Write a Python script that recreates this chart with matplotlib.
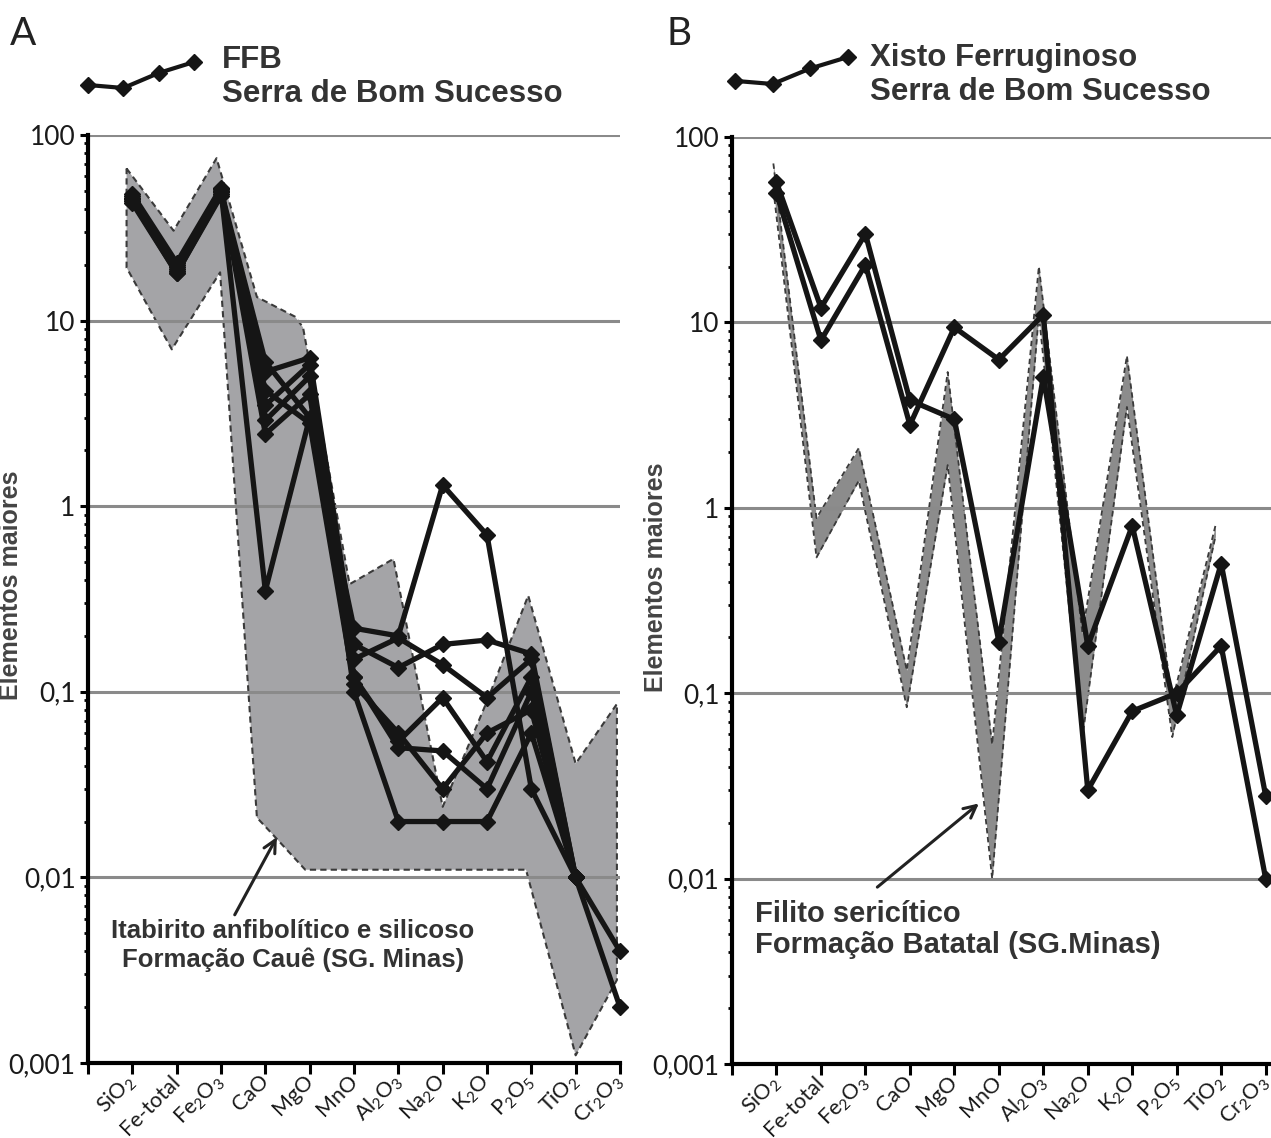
import matplotlib
matplotlib.use("Agg")
import matplotlib.pyplot as plt
import numpy as np
from matplotlib.ticker import LogLocator, NullFormatter

nan = np.nan

# categorias (eixo x)
oxides = ["$\\mathregular{SiO_2}$", "Fe-total", "$\\mathregular{Fe_2O_3}$", "CaO", "MgO", "MnO",
          "$\\mathregular{Al_2O_3}$", "$\\mathregular{Na_2O}$", "$\\mathregular{K_2O}$",
          "$\\mathregular{P_2O_5}$", "$\\mathregular{TiO_2}$", "$\\mathregular{Cr_2O_3}$"]
ytick_values = [0.001, 0.01, 0.1, 1, 10, 100]
ytick_labels = ["0,001", "0,01", "0,1", "1", "10", "100"]

# Painel A - FFB Serra de Bom Sucesso
ffb_1 = [46, 18.5, 50, 6.0, 3.0, 0.22, 0.2, 1.3, 0.7, 0.03, 0.01, 0.004]
ffb_2 = [45, 19, 49, 5.3, 6.3, 0.18, 0.135, 0.18, 0.19, 0.16, 0.01, 0.002]
ffb_3 = [43, 18, 47, 3.5, 5.8, 0.15, 0.195, 0.14, 0.093, 0.15, 0.01, nan]
ffb_4 = [47, 20, 51, 2.45, 4.0, 0.12, 0.054, 0.093, 0.042, 0.12, 0.01, nan]
ffb_5 = [45, 19.5, 50, 0.35, 3.0, 0.12, 0.05, 0.048, 0.03, 0.1, 0.01, nan]
ffb_6 = [44, 18, 48, 4.2, 2.8, 0.11, 0.06, 0.03, 0.06, 0.08, 0.01, nan]
ffb_7 = [48, 20.5, 52, 2.9, 5.0, 0.1, 0.02, 0.02, 0.02, 0.06, 0.01, nan]

# envelope Itabirito (Formação Cauê)
caue_upper_x = [0.87, 1.93, 2.9, 3.81, 4.67, 4.85, 5.9, 6.89, 8.0, 9.0, 9.93, 11.0, 11.93]
caue_upper_y = [66, 30.5, 75, 13.4, 10.5, 9.2, 0.38, 0.52, 0.024, 0.089, 0.33, 0.041, 0.086]
caue_lower_x = [0.87, 1.89, 2.98, 3.81, 4.17, 4.9, 9.88, 11.0, 11.93]
caue_lower_y = [19.3, 7.0, 18.2, 0.021, 0.017, 0.011, 0.011, 0.0011, 0.0028]

# Painel B - Xisto Ferruginoso
xisto_1 = [57, 12, 30, 3.8, 3.0, 0.19, 5.1, 0.18, 0.8, 0.076, 0.5, 0.028]
xisto_2 = [50, 8, 20.5, 2.8, 9.4, 6.3, 11, 0.03, 0.08, 0.1, 0.18, 0.01]

# faixa Filito sericítico (Formação Batatal)
band_x = [0.93, 1.9, 2.85, 3.93, 4.85, 5.85, 6.9, 7.88, 8.88, 9.9, 10.87]
band_upper = [72, 0.88, 2.1, 0.133, 5.4, 0.053, 20, 0.21, 6.6, 0.09, 0.8]
band_lower = [52, 0.54, 1.4, 0.084, 1.7, 0.010, 11, 0.058, 3.5, 0.058, 0.7]

W, H = 1271, 1138
LIGHT = ["Lato", "DejaVu Sans"]
BOLD = ["Liberation Sans", "DejaVu Sans"]
TXT = "#333333"


def fx(px):
    return px / W


def fy(py):
    return 1 - py / H


fig = plt.figure(figsize=(W / 100, H / 100), dpi=100)
ax_a = fig.add_axes([fx(88), fy(1063), (620 - 88) / W, (1063 - 135) / H])
ax_b = fig.add_axes([fx(732), fy(1064), (1271 - 732) / W, (1064 - 137) / H])


def style_axes(ax, xmax, label_xy):
    ax.set_yscale("log")
    ax.set_ylim(0.001, 100)
    ax.set_xlim(0, xmax)
    for v in ytick_values[1:]:
        ax.axhline(v, color="#8a8a8a", lw=2.2, zorder=2)
    for s in ("top", "right"):
        ax.spines[s].set_visible(False)
    for s in ("left", "bottom"):
        ax.spines[s].set_linewidth(3)
        ax.spines[s].set_zorder(5)
    ax.set_yticks(ytick_values)
    ax.set_yticklabels(ytick_labels, family=LIGHT, fontsize=19, color="#1a1a1a")
    ax.yaxis.set_minor_locator(LogLocator(base=10, subs=np.arange(2, 10)))
    ax.yaxis.set_minor_formatter(NullFormatter())
    ax.tick_params(axis="y", which="major", length=6, width=2.2, pad=3)
    ax.tick_params(axis="y", which="minor", length=3, width=2)
    ax.set_xticks(range(0, 13))
    ax.set_xticklabels([""] + oxides, rotation=45, ha="right", va="center",
                       rotation_mode="anchor", family=LIGHT, fontsize=15.5,
                       color="#1a1a1a")
    ax.tick_params(axis="x", length=8, width=2.2, pad=3)
    ax.set_ylabel("Elementos maiores", family=BOLD, fontweight="bold",
                  fontsize=18, color="#444444")
    ax.yaxis.set_label_coords(*label_xy)


def plot_series(ax, series):
    x = np.arange(1, 13)
    for s in series:
        ax.plot(x, s, color="#151515", lw=3.8, marker="D", ms=8,
                zorder=4, clip_on=False)


# ---- Painel A
style_axes(ax_a, 12, (-0.122, 0.515))
poly_x = caue_upper_x + caue_lower_x[::-1]
poly_y = caue_upper_y + caue_lower_y[::-1]
ax_a.fill(poly_x, poly_y, color="#a4a4a7", zorder=1, lw=0)
ax_a.plot(poly_x + poly_x[:1], poly_y + poly_y[:1], color="#3a3a3a", lw=1.5,
          ls=(0, (3, 2)), zorder=1.5)
plot_series(ax_a, [ffb_1, ffb_2, ffb_3, ffb_4, ffb_5, ffb_6, ffb_7])
ax_a.annotate("", xy=(4.29, 0.017), xytext=(3.28, 0.0061),
              arrowprops=dict(arrowstyle="->", lw=2.2, color="#222222",
                              mutation_scale=22), zorder=6)
ax_a.text(4.62, 0.0043, "Itabirito anfibolítico e silicoso\nFormação Cauê (SG. Minas)",
          ha="center", va="center", multialignment="center", family=BOLD,
          fontweight="bold", fontsize=18.5, color=TXT, linespacing=1.2, zorder=6)

# ---- Painel B
style_axes(ax_b, 12.12, (-0.119, 0.525))
ax_b.fill_between(band_x, band_lower, band_upper, color="#8c8c8c", lw=0, zorder=1)
for edge in (band_upper, band_lower):
    ax_b.plot(band_x, edge, color="#3a3a3a", lw=1.3, ls=(0, (3, 2)), zorder=1.5)
plot_series(ax_b, [xisto_1, xisto_2])
ax_b.annotate("", xy=(5.6, 0.026), xytext=(3.22, 0.0088),
              arrowprops=dict(arrowstyle="->", lw=2.2, color="#222222",
                              mutation_scale=22), zorder=6)
ax_b.text(0.52, 0.0053, "Filito sericítico\nFormação Batatal (SG.Minas)",
          ha="left", va="center", multialignment="left", family=BOLD,
          fontweight="bold", fontsize=21, color=TXT, linespacing=1.15, zorder=6)

# ---- legendas no topo
icon_shape = [3, 0, 15, 26]


def draw_icon(x0, x1, ytop, ybot):
    iax = fig.add_axes([fx(x0), fy(ybot), (x1 - x0) / W, (ybot - ytop) / H])
    iax.plot(range(4), icon_shape, color="#151515", lw=3, marker="D", ms=8,
             clip_on=False)
    iax.set_xlim(0, 3)
    iax.set_ylim(0, 26)
    iax.axis("off")


draw_icon(88, 194, 62, 88)
draw_icon(735, 848, 57, 84)

for x, y, t in [(222, 68, "FFB"), (222, 102, "Serra de Bom Sucesso"),
                (870, 66, "Xisto Ferruginoso"), (870, 100, "Serra de Bom Sucesso")]:
    fig.text(fx(x), fy(y), t, family=BOLD, fontweight="bold", fontsize=22.5,
             color=TXT, va="baseline", ha="left")

fig.text(fx(10), fy(45), "A", family=LIGHT, fontsize=28,
         color="#222222", va="baseline")
fig.text(fx(666), fy(45), "B", family=LIGHT, fontsize=28,
         color="#222222", va="baseline")

fig.savefig("out.png", dpi=100)
